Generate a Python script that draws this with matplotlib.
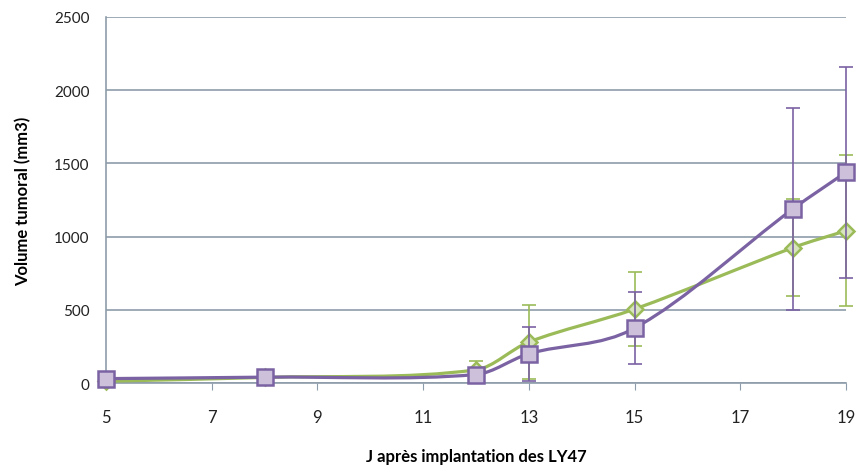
import numpy as np
import matplotlib
matplotlib.use('Agg')
from matplotlib import pyplot as plt
from matplotlib.path import Path
from matplotlib.patches import PathPatch

plt.rcParams['font.family'] = ['Lato', 'DejaVu Sans']

days = [5, 8, 12, 13, 15, 18, 19]

# green series (diamonds)
greenVol = [12, 38, 90, 280, 505, 925, 1040]
greenErr = [5, 10, 60, 250, 250, 330, 515]

# purple series (squares)
purpleVol = [30, 40, 58, 200, 375, 1190, 1440]
purpleErr = [8, 10, 20, 185, 245, 690, 720]

xTicks = [5, 7, 9, 11, 13, 15, 17, 19]
yTicks = [0, 500, 1000, 1500, 2000, 2500]

greenLine = '#9bbb59'
greenFill = '#d7e4bd'
purpleLine = '#7a62a3'
purpleFill = '#ccc0da'
gridCol = '#8d9caa'


def smoothPath(x, y):
  # smoothed line through the points, cubic Bezier segments with
  # slopes from neighbouring points (like Excel's smoothed line)
  x = np.asarray(x, float)
  y = np.asarray(y, float)
  n = len(x)
  slope = np.zeros(n)
  for i in range(n):
    i0 = max(i - 1, 0)
    i1 = min(i + 1, n - 1)
    slope[i] = (y[i1] - y[i0]) / (x[i1] - x[i0])
  verts = [(x[0], y[0])]
  codes = [Path.MOVETO]
  for i in range(n - 1):
    h = (x[i+1] - x[i]) / 3.
    c1 = (x[i] + h, y[i] + slope[i] * h)
    c2 = (x[i+1] - h, y[i+1] - slope[i+1] * h)
    verts += [c1, c2, (x[i+1], y[i+1])]
    codes += [Path.CURVE4] * 3
  return Path(verts, codes)


def plotSeries(ax, vol, err, lineCol, fillCol, marker, ms, z):
  ax.errorbar(days, vol, yerr=err, fmt='none', ecolor=lineCol, elinewidth=1.2,
              capsize=5, capthick=1.2, zorder=z, clip_on=False)
  ax.add_patch(PathPatch(smoothPath(days, vol), facecolor='none', edgecolor=lineCol,
                         lw=2.3, zorder=z + 1, clip_on=False))
  ax.plot(days, vol, ls='none', marker=marker, ms=ms, mfc=fillCol, mec=lineCol,
          mew=1.8, zorder=z + 2, clip_on=False)


fig = plt.figure(figsize=(8.61, 4.77), dpi=100)
ax = fig.add_axes([106/861., 1 - 384/477., 740/861., 366/477.])

plotSeries(ax, greenVol, greenErr, greenLine, greenFill, 'D', 8, 3)
plotSeries(ax, purpleVol, purpleErr, purpleLine, purpleFill, 's', 11, 6)

ax.set_xlim(5, 19)
ax.set_ylim(0, 2500)
ax.set_xticks(xTicks)
ax.set_yticks(yTicks)
ax.yaxis.grid(True, color=gridCol, lw=1.2)
ax.set_axisbelow(True)
for s in ['top', 'right']:
  ax.spines[s].set_visible(False)
for s in ['left', 'bottom']:
  ax.spines[s].set_color(gridCol)
  ax.spines[s].set_linewidth(1.2)
ax.tick_params(axis='x', direction='out', length=5, color=gridCol, labelsize=12,
               pad=14, labelcolor='#222222')
ax.tick_params(axis='y', length=0, labelsize=11, pad=12, labelcolor='#222222')

ax.set_xlabel('J après implantation des LY47', fontsize=12, fontweight='bold', labelpad=16)
ax.set_ylabel('Volume tumoral (mm3)', fontsize=12, fontweight='bold', labelpad=16)

fig.savefig('out.png', dpi=100)
